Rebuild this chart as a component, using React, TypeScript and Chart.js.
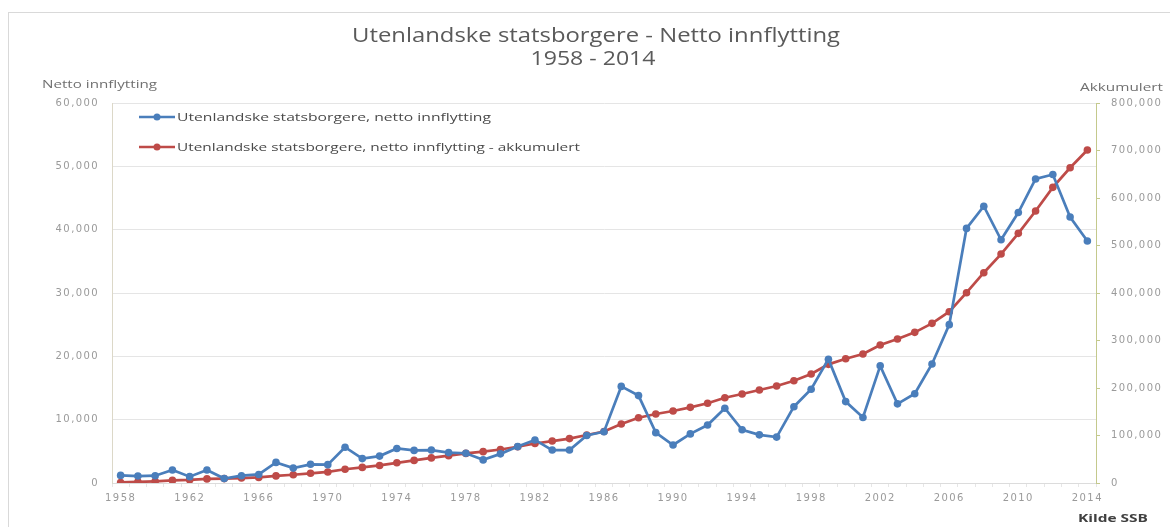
import React, { useEffect, useRef } from "react";
import { Chart, registerables } from "chart.js";

Chart.register(...registerables);

const years: string[] = [
  "1958", "1959", "1960", "1961", "1962", "1963", "1964", "1965", "1966", "1967",
  "1968", "1969", "1970", "1971", "1972", "1973", "1974", "1975", "1976", "1977",
  "1978", "1979", "1980", "1981", "1982", "1983", "1984", "1985", "1986", "1987",
  "1988", "1989", "1990", "1991", "1992", "1993", "1994", "1995", "1996", "1997",
  "1998", "1999", "2000", "2001", "2002", "2003", "2004", "2005", "2006", "2007",
  "2008", "2009", "2010", "2011", "2012", "2013", "2014",
];

const nettoInnflytting: number[] = [
  1200, 1100, 1150, 2050, 1000, 2050, 700, 1150, 1350, 3250,
  2350, 2950, 2900, 5650, 3850, 4250, 5450, 5150, 5200, 4800,
  4700, 3650, 4600, 5750, 6800, 5200, 5200, 7500, 8100, 15250,
  13800, 7950, 6000, 7750, 9150, 11800, 8400, 7600, 7250, 12050,
  14800, 19550, 12850, 10350, 18500, 12500, 14100, 18800, 25000, 40200,
  43700, 38400, 42700, 48000, 48700, 42000, 38200,
];

const akkumulert: number[] = [
  1200, 2300, 3500, 5500, 6500, 8600, 9300, 10400, 11800, 15000,
  17400, 20400, 23300, 28900, 32800, 37000, 42500, 47600, 52800, 57600,
  62300, 66000, 70600, 76300, 83100, 88300, 93500, 101000, 108500, 124200,
  137500, 145200, 151600, 159300, 167800, 179600, 187300, 195800, 204200, 215400,
  229400, 249800, 261700, 271500, 290500, 303100, 317200, 336100, 360600, 400600,
  442700, 482000, 525600, 572600, 622400, 663700, 701000,
];

const seriesLabels: string[] = [
  "Utenlandske statsborgere, netto innflytting",
  "Utenlandske statsborgere, netto innflytting - akkumulert",
];

const titleLines: string[] = ["Utenlandske statsborgere - Netto innflytting", "1958 - 2014"];
const leftAxisTitle = "Netto innflytting";
const rightAxisTitle = "Akkumulert";
const sourceNote = "Kilde SSB";

const BLUE = "#4a7ebb";
const RED = "#be4b48";
const TICK = "#9a9a9a";

function drawText(
  ctx: CanvasRenderingContext2D,
  text: string,
  x: number,
  y: number,
  w: number,
  font: string,
  color: string,
  align: "left" | "center" | "right"
) {
  ctx.save();
  (ctx as any).letterSpacing = "0px";
  ctx.font = font;
  ctx.fillStyle = color;
  ctx.textBaseline = "alphabetic";
  ctx.textAlign = "left";
  const m = ctx.measureText(text).width;
  const s = w / m;
  const left = align === "center" ? x - w / 2 : align === "right" ? x - w : x;
  ctx.translate(left, y);
  ctx.scale(s, 1);
  ctx.fillText(text, 0, 0);
  ctx.restore();
}

const decorPlugin = {
  id: "decor",
  beforeDraw(chart: any) {
    const ctx: CanvasRenderingContext2D = chart.ctx;
    ctx.save();
    ctx.fillStyle = "#ffffff";
    ctx.fillRect(0, 0, chart.width, chart.height);
    ctx.strokeStyle = "#d9d9d9";
    ctx.lineWidth = 1;
    ctx.strokeRect(8.5, 12.5, 1300, 700);
    ctx.restore();
    (ctx as any).letterSpacing = "1.4px";
  },
  afterDraw(chart: any) {
    const ctx: CanvasRenderingContext2D = chart.ctx;
    (ctx as any).letterSpacing = "0px";
    drawText(ctx, titleLines[0], 596, 42, 488, "20px 'Open Sans'", "#5a5a5a", "center");
    drawText(ctx, titleLines[1], 593, 65, 125, "20px 'Open Sans'", "#5a5a5a", "center");
    drawText(ctx, leftAxisTitle, 42, 88, 115, "10px 'Open Sans'", "#707070", "left");
    drawText(ctx, rightAxisTitle, 1080, 91, 83, "10px 'Open Sans'", "#707070", "left");
    drawText(ctx, sourceNote, 1078, 522, 70, "bold 11px 'Open Sans'", "#404040", "left");

    const items = [
      { label: seriesLabels[0], color: BLUE, y: 117, w: 314 },
      { label: seriesLabels[1], color: RED, y: 147, w: 403 },
    ];
    items.forEach((it) => {
      ctx.save();
      ctx.strokeStyle = it.color;
      ctx.lineWidth = 2.5;
      ctx.beginPath();
      ctx.moveTo(139, it.y);
      ctx.lineTo(175, it.y);
      ctx.stroke();
      ctx.fillStyle = it.color;
      ctx.beginPath();
      ctx.arc(157, it.y, 3.5, 0, Math.PI * 2);
      ctx.fill();
      ctx.restore();
      drawText(ctx, it.label, 177, it.y + 4, it.w, "11px 'Open Sans'", "#4a4a4a", "left");
    });
  },
};

export default function App() {
  const canvasRef = useRef<HTMLCanvasElement | null>(null);

  useEffect(() => {
    const canvas = canvasRef.current;
    if (!canvas) return;
    const chart = new Chart(canvas, {
      type: "line",
      data: {
        labels: years,
        datasets: [
          {
            label: seriesLabels[0],
            data: nettoInnflytting,
            yAxisID: "y",
            borderColor: BLUE,
            backgroundColor: BLUE,
            borderWidth: 2.7,
            pointRadius: 3.8,
            pointBorderWidth: 0,
            pointBackgroundColor: BLUE,
            tension: 0,
          },
          {
            label: seriesLabels[1],
            data: akkumulert,
            yAxisID: "y1",
            borderColor: RED,
            backgroundColor: RED,
            borderWidth: 2.7,
            pointRadius: 3.8,
            pointBorderWidth: 0,
            pointBackgroundColor: RED,
            tension: 0,
          },
        ],
      },
      options: {
        responsive: false,
        animation: false,
        devicePixelRatio: 1,
        layout: { padding: { top: 103, left: 0, right: 0, bottom: 0 } },
        plugins: {
          legend: { display: false },
          title: { display: false },
          tooltip: { enabled: false },
        },
        scales: {
          x: {
            offset: true,
            grid: {
              display: true,
              offset: true,
              drawOnChartArea: false,
              drawTicks: true,
              tickLength: 4,
              color: "#e6e6e6",
            },
            border: { display: true, color: "#dcdcdc" },
            ticks: {
              autoSkip: false,
              maxRotation: 0,
              padding: 5,
              color: TICK,
              font: { family: "'DejaVu Sans'", size: 10 },
              callback: (_v: any, i: number) => (i % 4 === 0 ? years[i] : ""),
            },
            afterFit: (s: any) => {
              s.height = 44;
            },
          },
          y: {
            position: "left",
            min: 0,
            max: 60000,
            grid: { color: "#e5e5e5", drawTicks: false },
            border: { display: true, color: "#dcd8c8" },
            ticks: {
              stepSize: 10000,
              padding: 13,
              color: TICK,
              font: { family: "'DejaVu Sans'", size: 10 },
              callback: (v: any) => Number(v).toLocaleString("en-US"),
            },
            afterFit: (s: any) => {
              s.width = 112;
            },
          },
          y1: {
            position: "right",
            min: 0,
            max: 800000,
            grid: {
              drawOnChartArea: false,
              drawTicks: true,
              tickLength: 4,
              color: "#c4c98c",
            },
            border: { display: true, color: "#c4c98c" },
            ticks: {
              stepSize: 100000,
              padding: 11,
              color: TICK,
              font: { family: "'DejaVu Sans'", size: 10 },
              callback: (v: any) => Number(v).toLocaleString("en-US"),
            },
            afterFit: (s: any) => {
              s.width = 74;
            },
          },
        },
      },
      plugins: [decorPlugin],
    } as any);
    return () => chart.destroy();
  }, []);

  return (
    <div style={{ position: "absolute", left: 0, top: 0, width: 1170, height: 527, background: "#fff" }}>
      <canvas ref={canvasRef} width={1170} height={527} style={{ width: 1170, height: 527, display: "block" }} />
    </div>
  );
}
